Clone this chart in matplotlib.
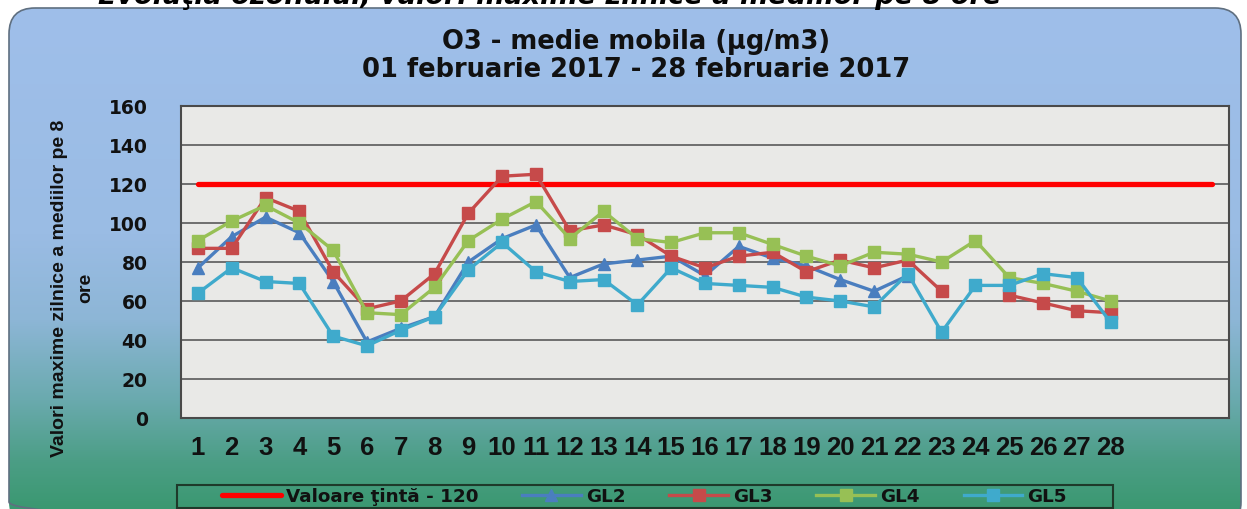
import numpy as np
import matplotlib
matplotlib.use("Agg")
import matplotlib.pyplot as plt
from matplotlib.patches import FancyBboxPatch, Rectangle
from matplotlib.colors import LinearSegmentedColormap

nan = np.nan
days = list(range(1, 32))
tick_labels = [str(d) for d in range(1, 29)]
target = [120] * 31
gl2 = [77, 93, 103, 95, 70, 39, 46, 52, 80, 92, 99, 72, 79, 81, 83, 73, 88, 82, 78, 71, 65, 73,
       nan, nan, nan, nan, nan, nan, nan, nan, nan]
gl3 = [87, 87, 113, 106, 75, 56, 60, 74, 105, 124, 125, 96, 99, 94, 83, 77, 83, 85, 75, 81, 77, 81,
       65, nan, 63, 59, 55, 54, nan, nan, nan]
gl4 = [91, 101, 109, 100, 86, 54, 53, 67, 91, 102, 111, 92, 106, 92, 90, 95, 95, 89, 83, 78, 85, 84,
       80, 91, 72, 69, 65, 60, nan, nan, nan]
gl5 = [64, 77, 70, 69, 42, 37, 45, 52, 76, 90, 75, 70, 71, 58, 77, 69, 68, 67, 62, 60, 57, 74,
       44, 68, 68, 74, 72, 49, nan, nan, nan]
series_names = ["Valoare ţintă - 120", "GL2", "GL3", "GL4", "GL5"]

plt.rcParams['font.family'] = ['Liberation Sans', 'DejaVu Sans']
plt.rcParams['font.weight'] = 'bold'
WIDE = ['DejaVu Sans']

W, H = 1247, 510
fig = plt.figure(figsize=(W / 100, H / 100), dpi=100)
fig.patch.set_facecolor('white')

# background panel with gradient
bg = fig.add_axes([0, 0, 1, 1], zorder=-5)
bg.set_xlim(0, W)
bg.set_ylim(H, 0)
bg.axis('off')
cmap = LinearSegmentedColormap.from_list('panel', [
    (0.0, '#9FBFEA'), (0.45, '#9ABCE4'), (0.62, '#8DB6D6'),
    (0.78, '#6AAAAE'), (0.9, '#4C9E86'), (1.0, '#3A9870')])
grad = np.linspace(0, 1, 256).reshape(-1, 1)
panel = FancyBboxPatch((9, 9), 1232, 520, boxstyle='round,pad=0,rounding_size=26',
                       facecolor='none', edgecolor='#5F6F80', linewidth=1.2)
bg.add_patch(panel)
im = bg.imshow(grad, cmap=cmap, aspect='auto', extent=(9, 1241, 512, 9))
im.set_clip_path(panel)
bg.text(98, 4, "Evoluţia ozonului, valori maxime zilnice a mediilor pe 8 ore",
        fontsize=19.5, fontweight='bold', fontstyle='italic', family=WIDE,
        color='black', va='baseline', ha='left')

# main axes
ax = fig.add_axes([181 / W, 1 - 419 / H, (1229 - 181) / W, (419 - 107) / H], zorder=2)
ax.set_facecolor('#E9E9E7')
ax.set_xlim(0.5, 31.5)
ax.set_ylim(0, 160)
ax.set_yticks(range(0, 161, 20))
ax.set_xticks(range(1, 29))
ax.set_xticklabels(tick_labels)
ax.tick_params(axis='both', length=0, labelcolor='#111111')
ax.tick_params(axis='y', pad=24, labelsize=13.5, labelfontfamily='DejaVu Sans')
ax.tick_params(axis='x', pad=12, labelsize=18.5, labelfontfamily='Liberation Sans')
for lab in ax.get_xticklabels() + ax.get_yticklabels():
    lab.set_fontweight('bold')
ax.grid(axis='y', color='#6E6E6E', linewidth=1.4)
ax.set_axisbelow(True)
for s in ax.spines.values():
    s.set_color('#4A4A4A')
    s.set_linewidth(1.5)

ax.plot(days, target, color='#FF0000', linewidth=3.8, solid_capstyle='round', label=series_names[0])
ax.plot(days, gl2, color='#4A7EBF', linewidth=2.4, marker='^', markersize=8, label=series_names[1])
ax.plot(days, gl3, color='#C64A4A', linewidth=2.4, marker='s', markersize=9, label=series_names[2])
ax.plot(days, gl4, color='#97C055', linewidth=2.4, marker='s', markersize=9, label=series_names[3])
ax.plot(days, gl5, color='#3FAACC', linewidth=2.4, marker='s', markersize=9, label=series_names[4])

# titles
fig.text(636 / W, 1 - 42 / H, "O3 - medie mobila (µg/m3)", ha='center', va='center',
         fontsize=18.5, fontweight='bold', family=WIDE, color='#111111')
fig.text(636 / W, 1 - 70 / H, "01 februarie 2017 - 28 februarie 2017", ha='center', va='center',
         fontsize=18.5, fontweight='bold', family=WIDE, color='#111111')
fig.text(73 / W, 1 - 288 / H, "Valori maxime zilnice a mediilor pe 8\nore", rotation=90,
         ha='center', va='center', multialignment='center', linespacing=1.7,
         fontsize=14, fontweight='bold', color='#111111')

# legend
handles, labels = ax.get_legend_handles_labels()
leg = fig.legend(handles, labels, loc='center left', bbox_to_anchor=(222 / W, 1 - 497 / H),
                 ncol=5, frameon=False, prop={'family': WIDE, 'weight': 'bold', 'size': 13.2},
                 handlelength=3.2, handletextpad=0.27, columnspacing=2.4,
                 borderpad=0, borderaxespad=0)
for t in leg.get_texts():
    t.set_color('#111111')
bg.add_patch(Rectangle((177, 486), 1113 - 177, 23, facecolor='none', edgecolor='#1E3A2A', linewidth=1.5))

fig.savefig('out.png', dpi=100)
